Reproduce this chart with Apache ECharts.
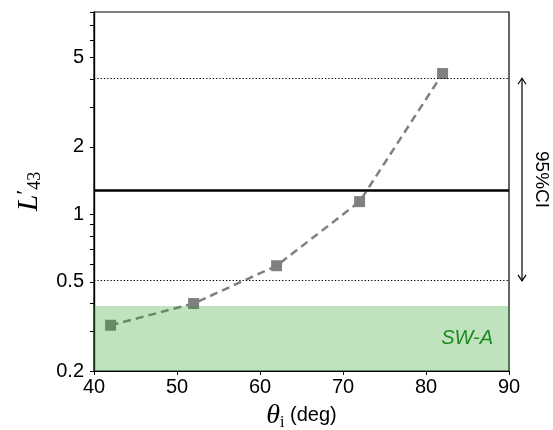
<!DOCTYPE html>
<html><head><meta charset="utf-8">
<script src="https://cdn.jsdelivr.net/npm/echarts@6/dist/echarts.min.js"></script>
<style>html,body{margin:0;padding:0;background:#fff}#c{width:553px;height:430px}</style>
</head><body><div id="c"></div>
<script>
const angles = [42, 52, 62, 72, 82];
const values = [0.32, 0.40, 0.59, 1.14, 4.25];
const yTickLabels = [0.2, 0.5, 1, 2, 5];
const yMinorTicks = [0.3, 0.4, 0.6, 0.7, 0.8, 0.9, 3, 4, 6, 7, 8];
const refLine = 1.28;
const ciLow = 0.505, ciHigh = 4.05;
const swaTop = 0.39;
const swaLabel = 'SW-A';
const ciLabel = '95%CI';

const sans = '"Liberation Sans", Arial, sans-serif';
const serif = '"Liberation Serif", "DejaVu Serif", serif';
const chart = echarts.init(document.getElementById('c'), null, {renderer: 'canvas'});

const yBase = {
  type: 'log', logBase: 10, min: 0.2, max: 8,
  splitLine: {show: false},
  axisLine: {show: true, lineStyle: {color: '#000', width: 1.2}}
};

chart.setOption({
  animation: false,
  grid: {left: 94, right: 44, top: 12, bottom: 59, containLabel: false, outerBoundsMode: 'none',
    show: true, borderColor: '#000', borderWidth: 1.2, backgroundColor: 'transparent'},
  xAxis: {
    type: 'value', min: 40, max: 90, interval: 10,
    splitLine: {show: false},
    axisLine: {lineStyle: {color: '#000', width: 1.2}},
    axisTick: {show: true, length: 4, lineStyle: {color: '#000'}},
    axisLabel: {color: '#000', fontSize: 20, fontFamily: sans, margin: 6},
    name: '{t|θ}{s|i}{d| (deg)}', nameLocation: 'middle', nameGap: 28,
    nameTextStyle: {rich: {
      t: {fontFamily: serif, fontStyle: 'italic', fontSize: 28, color: '#000'},
      s: {fontFamily: serif, fontSize: 16, color: '#000', verticalAlign: 'bottom', padding: [14, 0, 0, 0]},
      d: {fontFamily: sans, fontSize: 20, color: '#000'}
    }}
  },
  yAxis: [
    Object.assign({}, yBase, {
      axisTick: {show: true, length: 4, customValues: yTickLabels, lineStyle: {color: '#000'}},
      axisLabel: {show: true, customValues: yTickLabels, color: '#000', fontSize: 20, fontFamily: sans, margin: 10,
        formatter: v => String(+(+v).toPrecision(3))},
      name: '{l|L}{p|′}{s|43}', nameLocation: 'middle', nameGap: 50, nameRotate: 90,
      nameTextStyle: {rich: {
        l: {fontFamily: serif, fontStyle: 'italic', fontSize: 30, color: '#000'},
        p: {fontFamily: serif, fontSize: 22, color: '#000', verticalAlign: 'top'},
        s: {fontFamily: serif, fontSize: 18, color: '#000', verticalAlign: 'bottom', padding: [12, 0, 0, 0]}
      }}
    }),
    Object.assign({}, yBase, {
      axisTick: {show: true, length: 4, customValues: yMinorTicks, lineStyle: {color: '#000'}},
      axisLabel: {show: false},
      position: 'left'
    })
  ],
  series: [
    {
      type: 'line', z: 2,
      data: angles.map((a, i) => [a, values[i]]),
      symbol: 'rect', symbolSize: 11,
      itemStyle: {color: '#808080'},
      lineStyle: {color: '#808080', width: 2.5, type: [8, 5]},
      markLine: {
        silent: true, symbol: 'none',
        label: {show: false},
        data: [
          {yAxis: ciHigh, lineStyle: {type: [1.3, 2], color: '#000', width: 1.2}},
          {yAxis: ciLow, lineStyle: {type: [1.3, 2], color: '#000', width: 1.2}},
          {yAxis: refLine, lineStyle: {type: 'solid', color: '#000', width: 2.5}}
        ]
      }
    },
    {
      type: 'line', data: [], z: 5,
      markArea: {
        silent: true, z: 5,
        itemStyle: {color: 'rgba(44,160,44,0.3)'},
        label: {show: true, position: 'insideRight', distance: 16, color: '#1f8a1f', fontSize: 20, fontStyle: 'italic', fontFamily: sans},
        data: [[{yAxis: 0.2, name: swaLabel}, {yAxis: swaTop}]]
      }
    }
  ]
});

const yHi = chart.convertToPixel({yAxisIndex: 0}, ciHigh);
const yLo = chart.convertToPixel({yAxisIndex: 0}, ciLow);
const xA = 522;
chart.setOption({
  graphic: [
    {type: 'line', shape: {x1: xA, y1: yHi, x2: xA, y2: yLo}, style: {stroke: '#000', lineWidth: 1.2}},
    {type: 'polyline', shape: {points: [[xA - 4, yHi + 6], [xA, yHi], [xA + 4, yHi + 6]]}, style: {stroke: '#000', lineWidth: 1.2, fill: null}},
    {type: 'polyline', shape: {points: [[xA - 4, yLo - 6], [xA, yLo], [xA + 4, yLo - 6]]}, style: {stroke: '#000', lineWidth: 1.2, fill: null}},
    {type: 'text', x: 541, y: (yHi + yLo) / 2, rotation: -Math.PI / 2,
      style: {text: ciLabel, fill: '#000', font: '19px ' + sans, align: 'center', verticalAlign: 'middle'}}
  ]
});
</script></body></html>
